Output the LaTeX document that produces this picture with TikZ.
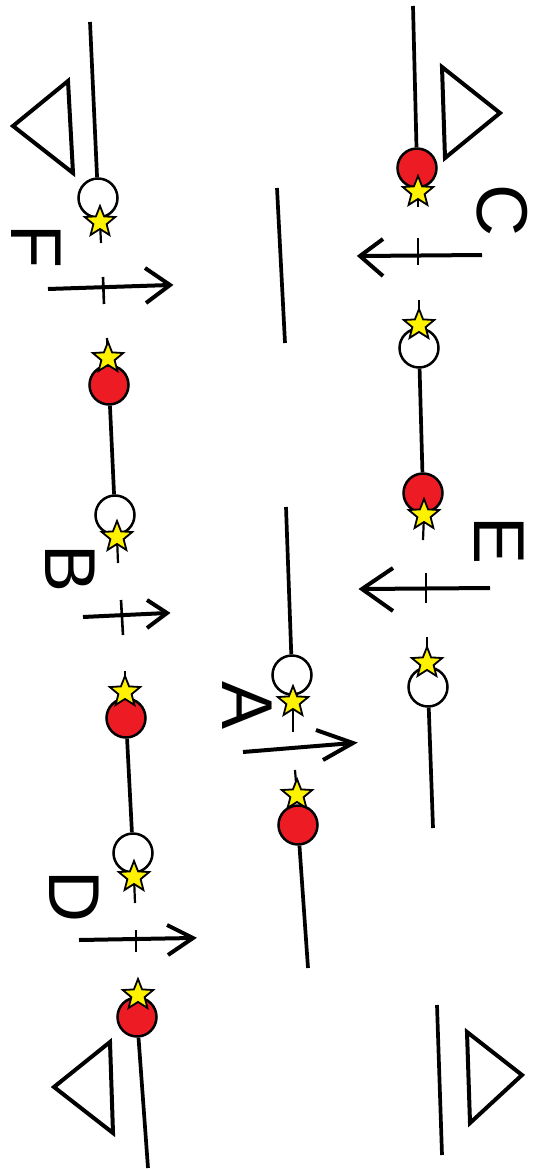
\documentclass[tikz,border=0pt]{standalone}
\usepackage{fontspec}
\setmainfont{Liberation Sans}
\usetikzlibrary{shapes.geometric}
\definecolor{pred}{RGB}{237,28,36}
\definecolor{pyel}{RGB}{255,242,0}
\begin{document}
\begin{tikzpicture}[x=1pt,y=-1pt,
  wire/.style={line width=3.7pt},
  stem/.style={line width=2.2pt},
  arrowline/.style={line width=4pt, line join=miter},
  tickline/.style={line width=2.6pt},
  tri/.style={draw, line width=4pt, line join=miter},
  ballbase/.style={circle, draw=black, line width=2.5pt, minimum size=39pt, inner sep=0pt},
  rball/.style={ballbase, fill=pred},
  wball/.style={ballbase, fill=white},
  starm/.style={star, star points=5, star point ratio=2.3, draw=black, line width=1.8pt, fill=pyel, minimum size=32pt, inner sep=0pt},
  letter/.style={font=\fontsize{72}{72}\selectfont, rotate=-90, inner sep=0pt}]
\useasboundingbox (0,0) rectangle (542,1169);
\fill[white] (0,0) rectangle (542,1169);

% ---------------- left column ----------------
\coordinate (l0) at (90,22);
\coordinate (l1) at (148,1168);
\node[wball] (wF) at (98,198) {};
\node[rball] (rF) at (109,385) {};
\node[wball] (wB) at (115,515) {};
\node[rball] (rB) at (126,718) {};
\node[wball] (wD) at (133,853) {};
\node[rball] (rD) at (137,1017) {};
\draw[wire] (l0) -- (wF);
\draw[wire] (rF) -- (wB);
\draw[wire] (rB) -- (wD);
\draw[wire] (rD) -- (l1);

% stems
\coordinate (tF) at (101,243);
\coordinate (tRF) at (107,338);
\coordinate (tB) at (118,563);
\coordinate (tRB) at (125,671);
\coordinate (tD) at (135,903);
\coordinate (sFc) at (100,222);
\coordinate (sRFc) at (108,358);
\coordinate (sBc) at (117,537);
\coordinate (sRBc) at (125,692);
\coordinate (sDc) at (134,877);
\draw[stem] (sFc) -- (tF);
\draw[stem] (sRFc) -- (tRF);
\draw[stem] (sBc) -- (tB);
\draw[stem] (sRBc) -- (tRB);
\draw[stem] (sDc) -- (tD);

\node[starm] (sF) at (sFc) {};
\node[starm] (sRF) at (sRFc) {};
\node[starm] (sB) at (sBc) {};
\node[starm] (sRB) at (sRBc) {};
\node[starm] (sD) at (sDc) {};
\node[starm] (sRD) at (138,995) {};

% arrows F, B, D
\coordinate (aF0) at (48,289); \coordinate (aF1) at (170,285);
\coordinate (hF0) at (145,268); \coordinate (hF1) at (146,303);
\draw[arrowline] (aF0) -- (aF1);
\draw[arrowline] (hF0) -- (aF1) -- (hF1);
\coordinate (kF0) at (103,277); \coordinate (kF1) at (104,304);
\draw[tickline] (kF0) -- (kF1);

\coordinate (aB0) at (83,617); \coordinate (aB1) at (167,613);
\coordinate (hB0) at (147,600); \coordinate (hB1) at (147,628);
\draw[arrowline] (aB0) -- (aB1);
\draw[arrowline] (hB0) -- (aB1) -- (hB1);
\coordinate (kB0) at (121,600); \coordinate (kB1) at (123,635);
\draw[tickline] (kB0) -- (kB1);

\coordinate (aD0) at (79,940); \coordinate (aD1) at (193,938);
\coordinate (hD0) at (167,925); \coordinate (hD1) at (168,955);
\draw[arrowline] (aD0) -- (aD1);
\draw[arrowline] (hD0) -- (aD1) -- (hD1);
\coordinate (kD0) at (136,930); \coordinate (kD1) at (136,952);
\draw[tickline] (kD0) -- (kD1);

% triangles left
\coordinate (tl0) at (13,126); \coordinate (tl1) at (68,81); \coordinate (tl2) at (73,173);
\draw[tri] (tl0) -- (tl1) -- (tl2) -- cycle;
\coordinate (tb0) at (54,1087); \coordinate (tb1) at (110,1042); \coordinate (tb2) at (113,1133);
\draw[tri] (tb0) -- (tb1) -- (tb2) -- cycle;

% ---------------- middle column ----------------
\coordinate (m0) at (277,188); \coordinate (m1) at (285,343);
\draw[wire] (m0) -- (m1);
\coordinate (m2) at (286,507);
\coordinate (m3) at (308,968);
\node[wball] (wA) at (292,675) {};
\node[rball] (rA) at (298,825) {};
\draw[wire] (m2) -- (wA);
\draw[wire] (rA) -- (m3);
\coordinate (sAc) at (293,702); \coordinate (tA) at (293,732);
\coordinate (sRAc) at (297,795); \coordinate (tRA) at (295,770);
\draw[stem] (sAc) -- (tA);
\draw[stem] (sRAc) -- (tRA);
\node[starm] (sA) at (sAc) {};
\node[starm] (sRA) at (sRAc) {};
\coordinate (aA0) at (243,752); \coordinate (aA1) at (353,743);
\coordinate (hA0) at (316,730); \coordinate (hA1) at (323,760);
\draw[arrowline] (aA0) -- (aA1);
\draw[arrowline] (hA0) -- (aA1) -- (hA1);

% ---------------- right column ----------------
\coordinate (r0) at (413,6);
\node[rball] (rC) at (417,168) {};
\draw[wire] (r0) -- (rC);
\node[wball] (wC) at (419,348) {};
\node[rball] (rE) at (423,493) {};
\node[wball] (wE) at (428,687) {};
\coordinate (r1) at (433,828);
\draw[wire] (wC) -- (rE);
\draw[wire] (wE) -- (r1);
\coordinate (r2) at (437,1005); \coordinate (r3) at (442,1155);
\draw[wire] (r2) -- (r3);

\coordinate (sCc) at (418,192); \coordinate (tC) at (418,207);
\coordinate (sWCc) at (419,325); \coordinate (tWC) at (419,300);
\coordinate (sEc) at (424,515); \coordinate (tE) at (423,540);
\coordinate (sWEc) at (427,663); \coordinate (tWE) at (427,637);
\draw[stem] (sCc) -- (tC);
\draw[stem] (sWCc) -- (tWC);
\draw[stem] (sEc) -- (tE);
\draw[stem] (sWEc) -- (tWE);
\node[starm] (sC) at (sCc) {};
\node[starm] (sWC) at (sWCc) {};
\node[starm] (sE) at (sEc) {};
\node[starm] (sWE) at (sWEc) {};

\coordinate (aC0) at (482,255); \coordinate (aC1) at (360,256);
\coordinate (hC0) at (383,239); \coordinate (hC1) at (383,276);
\draw[arrowline] (aC0) -- (aC1);
\draw[arrowline] (hC0) -- (aC1) -- (hC1);
\coordinate (kC0) at (418,238); \coordinate (kC1) at (418,265);
\draw[tickline] (kC0) -- (kC1);

\coordinate (aE0) at (490,588); \coordinate (aE1) at (362,589);
\coordinate (hE0) at (393,568); \coordinate (hE1) at (393,611);
\draw[arrowline] (aE0) -- (aE1);
\draw[arrowline] (hE0) -- (aE1) -- (hE1);
\coordinate (kE0) at (426,573); \coordinate (kE1) at (426,603);
\draw[tickline] (kE0) -- (kE1);

% triangles right
\coordinate (tr0) at (442,67); \coordinate (tr1) at (500,113); \coordinate (tr2) at (445,158);
\draw[tri] (tr0) -- (tr1) -- (tr2) -- cycle;
\coordinate (ts0) at (467,1032); \coordinate (ts1) at (522,1075); \coordinate (ts2) at (470,1123);
\draw[tri] (ts0) -- (ts1) -- (ts2) -- cycle;

% ---------------- letters ----------------
\node[letter] (LC) at (502,210) {C};
\node[letter] (LE) at (499,541) {E};
\node[letter] (LA) at (247,706) {A};
\node[letter] (LB) at (70,569) {B};
\node[letter] (LF) at (36,246) {F};
\node[letter] (LD) at (74,896) {D};
\end{tikzpicture}
\end{document}
